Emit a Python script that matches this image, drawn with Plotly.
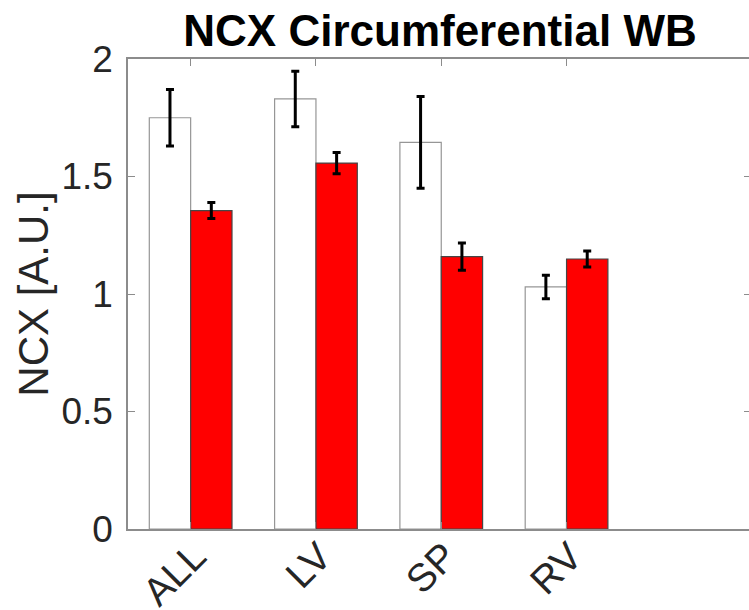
import plotly.graph_objects as go

# Regions and group means / SEM for NCX circumferential western blot
regions = ["ALL", "LV", "SP", "RV"]
positions = [1, 2, 3, 4]
control_mean = [1.75, 1.83, 1.645, 1.03]
control_err = [0.12, 0.118, 0.195, 0.05]
treated_mean = [1.355, 1.557, 1.159, 1.149]
treated_err = [0.034, 0.045, 0.058, 0.034]

y_ticks = [0, 0.5, 1, 1.5, 2]
y_tick_text = ["0", "0.5", "1", "1.5", "2"]

FONT = "Liberation Sans, Arial, Helvetica, sans-serif"
AXIS_GRAY = "rgb(140,140,140)"
BAR_W = 0.33

fig = go.Figure()

fig.add_trace(go.Bar(
    x=positions, y=control_mean,
    width=BAR_W, offset=-BAR_W,
    marker=dict(color="white", line=dict(color="rgb(150,150,150)", width=1.2)),
    error_y=dict(type="data", array=control_err, color="black", thickness=3, width=4),
    showlegend=False,
))
fig.add_trace(go.Bar(
    x=positions, y=treated_mean,
    width=BAR_W, offset=0,
    marker=dict(color="rgb(255,0,0)", line=dict(color="rgb(70,70,70)", width=1.2)),
    error_y=dict(type="data", array=treated_err, color="black", thickness=3, width=4),
    showlegend=False,
))
# carrier for the right-hand tick marks
fig.add_trace(go.Scatter(x=[None], y=[None], yaxis="y2", showlegend=False, hoverinfo="skip"))

fig.update_layout(
    width=749, height=610,
    margin=dict(l=128, r=0, t=59, b=81),
    paper_bgcolor="white", plot_bgcolor="white",
    barmode="overlay",
    title=dict(
        text="<b>NCX Circumferential WB</b>",
        font=dict(family=FONT, size=44, color="black"),
        x=440 / 749, xanchor="center",
        yref="container", y=1 - 31 / 610, yanchor="middle",
    ),
    xaxis=dict(
        range=[0.5, 0.5 + 621 / 125.3],
        tickvals=positions, ticktext=regions,
        tickangle=-45,
        ticks="inside", ticklen=7, tickcolor=AXIS_GRAY, tickwidth=1,
        showline=True, linecolor=AXIS_GRAY, linewidth=1.5, mirror="ticks",
        showgrid=False, zeroline=False,
        automargin=False,
        ticklabelstandoff=-13, ticklabelshift=4,
        tickfont=dict(family=FONT, size=39, color="rgb(38,38,38)"),
    ),
    yaxis=dict(
        range=[0, 2],
        tickvals=y_ticks, ticktext=y_tick_text,
        ticks="inside", ticklen=7, tickcolor=AXIS_GRAY, tickwidth=1,
        showline=True, linecolor=AXIS_GRAY, linewidth=1.5,
        showgrid=False, zeroline=False,
        automargin=False,
        ticklabelstandoff=6,
        tickfont=dict(family=FONT, size=37, color="rgb(38,38,38)"),
        title=dict(text="NCX [A.U.]", font=dict(family=FONT, size=42, color="rgb(38,38,38)"), standoff=0),
    ),
    yaxis2=dict(
        range=[0, 2], overlaying="y", side="right",
        tickvals=y_ticks, showticklabels=False,
        ticks="inside", ticklen=5, tickcolor=AXIS_GRAY, tickwidth=1,
        showline=False, showgrid=False, zeroline=False,
        automargin=False,
    ),
)

fig.write_html("out.html")
